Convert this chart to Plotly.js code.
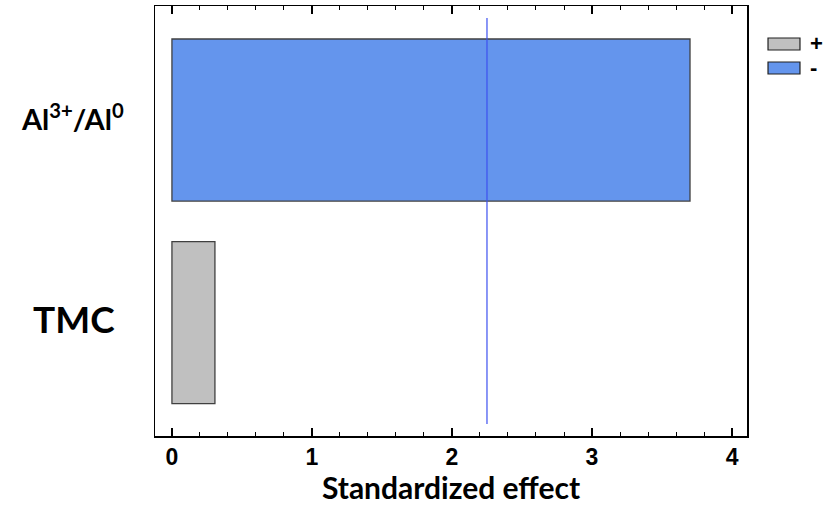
<!DOCTYPE html>
<html>
<head>
<meta charset="utf-8">
<script src="https://cdn.plot.ly/plotly-3.0.1.min.js"></script>
<style>html,body{margin:0;padding:0;background:#fff;}</style>
</head>
<body>
<div id="chart" style="width:832px;height:505px;"></div>
<script>
const factorLabels = ['<span style="font-size:37px">TMC </span>', 'Al<sup>3+</sup>/Al<sup>0</sup>'];
const factorPos = [0, 1];
const plusEffects = [0.307, null];
const minusEffects = [null, 3.70];
const criticalValue = 2.25;
const xTicks = [0, 1, 2, 3, 4];
const legendNames = ['+', '-'];
const legendColors = ['#C0C0C0', '#6495ED'];

const traces = [
  {type:'bar', orientation:'h', name:legendNames[0], x: plusEffects, y: factorPos, width:0.8,
   marker:{color:legendColors[0], line:{color:'#404040', width:1.3}}, hoverinfo:'x'},
  {type:'bar', orientation:'h', name:legendNames[1], x: minusEffects, y: factorPos, width:0.8,
   marker:{color:legendColors[1], line:{color:'#404040', width:1.3}}, hoverinfo:'x'},
  // invisible trace to activate the mirrored top axis
  {type:'scatter', mode:'none', x:[0], y:[0], xaxis:'x2', yaxis:'y', showlegend:false, hoverinfo:'skip'}
];

const tickFont = {family:'Liberation Sans, Arial, sans-serif', size:23, color:'#000', weight:'bold'};
const axisCommon = {
  range:[-0.121, 4.107], tickvals:xTicks,
  ticks:'inside', ticklen:8, tickwidth:1.5, tickcolor:'#000',
  minor:{dtick:0.2, tick0:0, ticks:'inside', ticklen:4, tickwidth:1, tickcolor:'#000'},
  showline:true, linecolor:'#000', linewidth:1.5, showgrid:false, zeroline:false
};

const legendShapes = [];
const legendAnn = [];
const legY = [[0.8977, 0.9256], [0.8419, 0.8698]];
for (let i = 0; i < legendNames.length; i++) {
  legendShapes.push({type:'rect', xref:'paper', yref:'paper', x0:1.0355, x1:1.0895, y0:legY[i][0], y1:legY[i][1],
    fillcolor:legendColors[i], line:{color:'#202020', width:1.2}});
  legendAnn.push({xref:'paper', yref:'paper', x:1.103, y:(legY[i][0]+legY[i][1])/2, xanchor:'left', yanchor:'middle',
    text:legendNames[i], showarrow:false, font:{family:'Liberation Sans, Arial, sans-serif', size:22, color:'#000', weight:'bold'}});
}

const layout = {
  width:832, height:505,
  margin:{l:155, r:85, t:6, b:69},
  paper_bgcolor:'#fff', plot_bgcolor:'#fff',
  barmode:'overlay',
  showlegend:false,
  xaxis:Object.assign({}, axisCommon, {
    ticktext:xTicks.map(String), tickfont:tickFont,
    title:{text:'Standardized effect', font:{family:'Lato, sans-serif', size:30, color:'#000', weight:'bold'}, standoff:2}}),
  xaxis2:Object.assign({}, axisCommon, {overlaying:'x', side:'top', showticklabels:false}),
  yaxis:{range:[-0.56, 1.563], tickvals:factorPos, ticktext:factorLabels, ticks:'',
    showline:true, linecolor:'#000', linewidth:1.5, mirror:true, showgrid:false, zeroline:false,
    tickfont:{family:'Lato, sans-serif', size:29, color:'#000', weight:'bold'}, ticklabelstandoff:24},
  shapes:[{type:'line', xref:'x', yref:'paper', x0:criticalValue, x1:criticalValue, y0:0.028, y1:0.972,
    line:{color:'#3c50f0', width:1.2}}].concat(legendShapes),
  annotations:legendAnn
};

Plotly.newPlot('chart', traces, layout, {displayModeBar:false, staticPlot:true});
</script>
</body>
</html>
